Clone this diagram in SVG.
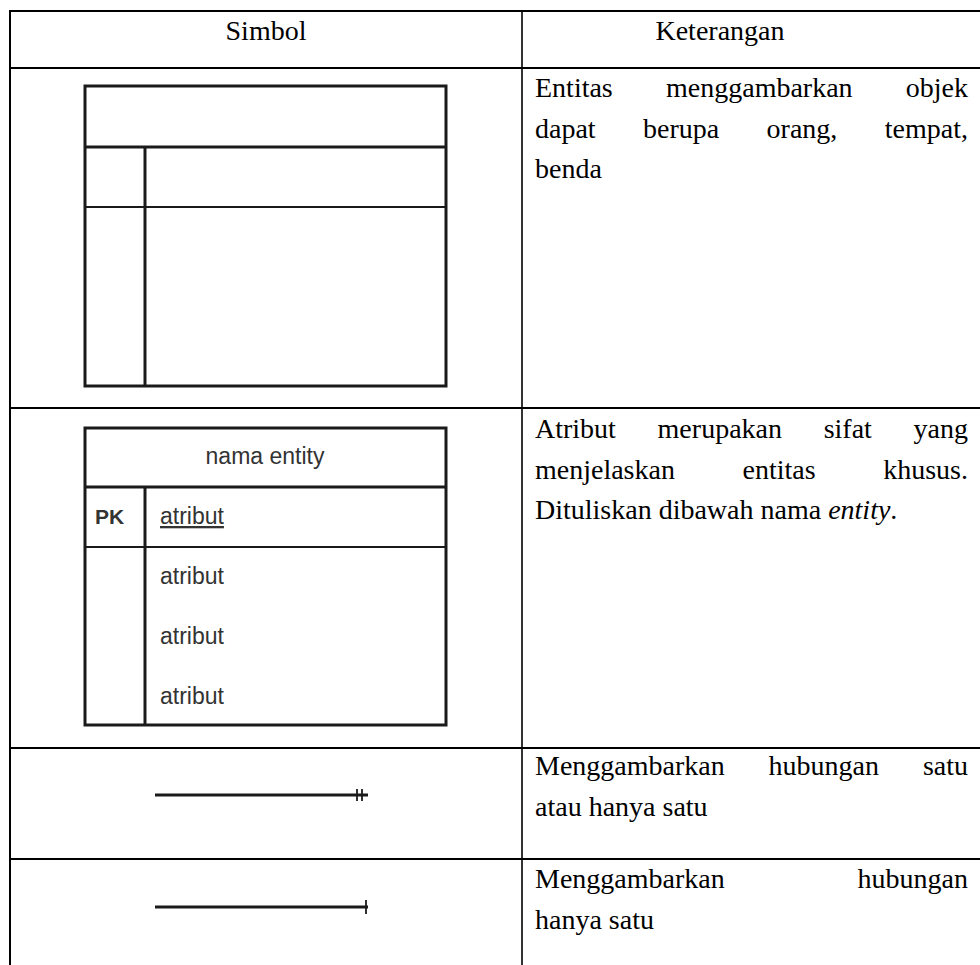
<svg xmlns="http://www.w3.org/2000/svg" width="980" height="965" viewBox="0 0 980 965">
<style>
.grid{stroke:#000;stroke-width:2;fill:none}
.sym{stroke:#1a1a1a;stroke-width:3;fill:none}
.thin{stroke:#1a1a1a;stroke-width:1.8;fill:none}
.t{font-family:"Liberation Serif","Times New Roman",serif;font-size:28px;fill:#000}
.e{font-family:"Liberation Sans",Arial,sans-serif;font-size:23px;fill:#333}
</style>
<rect width="980" height="965" fill="#fff"/>
<g id="table">
<line class="grid" x1="10" y1="11" x2="980" y2="11"/>
<line class="grid" x1="10" y1="10" x2="10" y2="965"/>
<line class="grid" x1="522" y1="11" x2="522" y2="965" style="stroke-width:1.6"/>
<line class="grid" x1="10" y1="68" x2="980" y2="68"/>
<line class="grid" x1="10" y1="408" x2="980" y2="408"/>
<line class="grid" x1="10" y1="748" x2="980" y2="748"/>
<line class="grid" x1="10" y1="859" x2="980" y2="859"/>
<text class="t" x="266" y="40" text-anchor="middle">Simbol</text>
<text class="t" x="720" y="40" text-anchor="middle">Keterangan</text>
</g>
<g id="entity-empty">
<rect class="sym" x="85" y="86" width="361" height="300"/>
<line class="sym" x1="85" y1="147" x2="446" y2="147"/>
<line class="sym" x1="145" y1="147" x2="145" y2="386"/>
<line class="thin" x1="85" y1="207" x2="446" y2="207"/>
</g>
<g id="entity-named">
<rect class="sym" x="85" y="428" width="361" height="297"/>
<line class="sym" x1="85" y1="487" x2="446" y2="487"/>
<line class="sym" x1="145" y1="487" x2="145" y2="725"/>
<line class="thin" x1="85" y1="547" x2="446" y2="547"/>
<text class="e" x="265" y="464" text-anchor="middle">nama entity</text>
<text class="e" x="95" y="524" style="font-weight:bold;font-size:21px">PK</text>
<text class="e" x="160" y="524" text-decoration="underline">atribut</text>
<text class="e" x="160" y="584">atribut</text>
<text class="e" x="160" y="644">atribut</text>
<text class="e" x="160" y="704">atribut</text>
</g>
<g id="connectors">
<line class="sym" x1="155" y1="795" x2="368" y2="795"/>
<line class="thin" x1="357" y1="789" x2="357" y2="801"/>
<line class="thin" x1="362" y1="789" x2="362" y2="801"/>
<line class="sym" x1="155" y1="907" x2="368" y2="907"/>
<line class="thin" x1="366" y1="900" x2="366" y2="914"/>
</g>
<g id="desc">
<text class="t" y="97"><tspan x="535">Entitas</tspan><tspan x="666">menggambarkan</tspan><tspan x="968" text-anchor="end">objek</tspan></text>
<text class="t" y="137.5"><tspan x="535">dapat</tspan><tspan x="643">berupa</tspan><tspan x="766.6">orang,</tspan><tspan x="968" text-anchor="end">tempat,</tspan></text>
<text class="t" x="535" y="178">benda</text>
<text class="t" y="438"><tspan x="535">Atribut</tspan><tspan x="657.6">merupakan</tspan><tspan x="823.7">sifat</tspan><tspan x="968" text-anchor="end">yang</tspan></text>
<text class="t" y="478.5"><tspan x="535">menjelaskan</tspan><tspan x="742.6">entitas</tspan><tspan x="968" text-anchor="end">khusus.</tspan></text>
<text class="t" x="535" y="519">Dituliskan dibawah nama <tspan font-style="italic">entity</tspan>.</text>
<text class="t" y="775"><tspan x="535">Menggambarkan</tspan><tspan x="768.6">hubungan</tspan><tspan x="968" text-anchor="end">satu</tspan></text>
<text class="t" x="535" y="815.5">atau hanya satu</text>
<text class="t" y="888"><tspan x="535">Menggambarkan</tspan><tspan x="968" text-anchor="end">hubungan</tspan></text>
<text class="t" x="535" y="928.5">hanya satu</text>
</g>
</svg>
